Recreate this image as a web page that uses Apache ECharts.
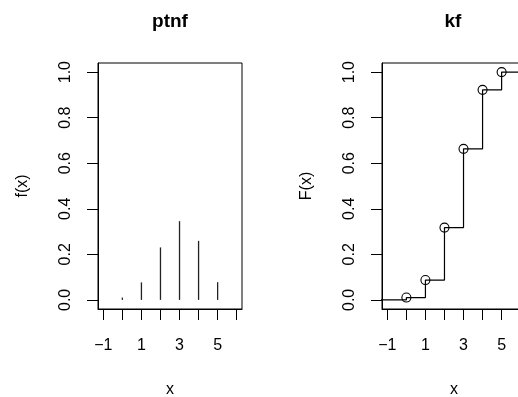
<!DOCTYPE html>
<html><head><meta charset="utf-8">
<script src="https://cdn.jsdelivr.net/npm/echarts@6/dist/echarts.min.js"></script>
<style>html,body{margin:0;padding:0;background:#fff}#c{width:518px;height:397px}</style>
</head><body><div id="c"></div>
<script>
// data
var xs = [0, 1, 2, 3, 4, 5];
var fvals = [0.0102, 0.0768, 0.2304, 0.3456, 0.2592, 0.0778];
var Fvals = [0.0102, 0.0870, 0.3174, 0.6630, 0.9222, 1.0000];
var xTicks = [-1, 0, 1, 2, 3, 4, 5, 6];
var xLabels = [-1, 1, 3, 5];
var yTicks = [0, 0.2, 0.4, 0.6, 0.8, 1.0];
var titles = ['ptnf', 'kf'];
var yNames = ['f(x)', 'F(x)'];
var xName = 'x';
var xRange = [-1.28, 6.28];
var yRange = [-0.04, 1.04];
var stepLeft = -1.43, stepRight = 7;

var FONT = "'Liberation Sans', Arial, Helvetica, sans-serif";
var chart = echarts.init(document.getElementById('c'), null, {renderer: 'canvas'});

function xAx(gi) {
  return {
    type: 'value', gridIndex: gi, min: xRange[0], max: xRange[1], position: 'bottom',
    name: xName, nameLocation: 'middle', nameGap: 73,
    nameTextStyle: {fontFamily: FONT, fontSize: 16, color: '#000'},
    axisLine: {show: true, onZero: false, lineStyle: {color: '#000', width: 1}},
    axisTick: {show: true, length: 11, customValues: xTicks, lineStyle: {color: '#000', width: 1}},
    axisLabel: {show: true, customValues: xLabels, margin: 29, fontFamily: FONT, fontSize: 16, color: '#000',
      formatter: function (v) { return v < 0 ? '\u2212' + Math.abs(v) : String(v); }},
    splitLine: {show: false}
  };
}
function yAx(gi, nm) {
  return {
    type: 'value', gridIndex: gi, min: yRange[0], max: yRange[1], position: 'left',
    name: nm, nameLocation: 'middle', nameGap: 67, nameRotate: 90,
    nameTextStyle: {fontFamily: FONT, fontSize: 16, color: '#000'},
    axisLine: {show: true, onZero: false, lineStyle: {color: '#000', width: 1}},
    axisTick: {show: true, length: 11, customValues: yTicks, lineStyle: {color: '#000', width: 1}},
    axisLabel: {show: true, customValues: yTicks, rotate: 90, margin: 24, fontFamily: FONT, fontSize: 16, color: '#000',
      formatter: function (v) { return v.toFixed(1); }},
    splitLine: {show: false}
  };
}

var stepData = [[stepLeft, 0]];
xs.forEach(function (x, i) { stepData.push([x, Fvals[i]]); });
stepData.push([stepRight, Fvals[Fvals.length - 1]]);

var option = {
  animation: false,
  backgroundColor: '#fff',
  title: [
    {text: titles[0], left: 170, top: 12, padding: 0, textAlign: 'center',
      textStyle: {fontFamily: FONT, fontSize: 19, fontWeight: 'bold', color: '#000'}},
    {text: titles[1], left: 453, top: 12, padding: 0, textAlign: 'center',
      textStyle: {fontFamily: FONT, fontSize: 19, fontWeight: 'bold', color: '#000'}}
  ],
  grid: [
    {left: 98, top: 63, width: 144, height: 246, containLabel: false, outerBoundsMode: 'none',
      show: true, borderColor: '#000', borderWidth: 1, backgroundColor: 'transparent'},
    {left: 382, top: 63, width: 144, height: 246, containLabel: false, outerBoundsMode: 'none',
      show: true, borderColor: '#000', borderWidth: 1, backgroundColor: 'transparent'}
  ],
  xAxis: [xAx(0), xAx(1)],
  yAxis: [yAx(0, yNames[0]), yAx(1, yNames[1])],
  series: [
    {
      type: 'custom', xAxisIndex: 0, yAxisIndex: 0,
      data: xs.map(function (x, i) { return [x, fvals[i]]; }),
      renderItem: function (params, api) {
        var p0 = api.coord([api.value(0), 0]);
        var p1 = api.coord([api.value(0), api.value(1)]);
        return {type: 'line', shape: {x1: p0[0], y1: p0[1], x2: p1[0], y2: p1[1]},
          style: {stroke: '#222', lineWidth: 1.3}};
      }
    },
    {
      type: 'line', xAxisIndex: 1, yAxisIndex: 1, step: 'end', clip: false,
      data: stepData, showSymbol: false, symbol: 'none',
      lineStyle: {color: '#000', width: 1.2}
    },
    {
      type: 'scatter', xAxisIndex: 1, yAxisIndex: 1, z: 5,
      data: xs.map(function (x, i) { return [x, Fvals[i]]; }),
      symbol: 'circle', symbolSize: 9,
      itemStyle: {color: 'rgba(0,0,0,0)', borderColor: '#000', borderWidth: 1.1, opacity: 1}
    }
  ]
};
chart.setOption(option);
</script></body></html>
